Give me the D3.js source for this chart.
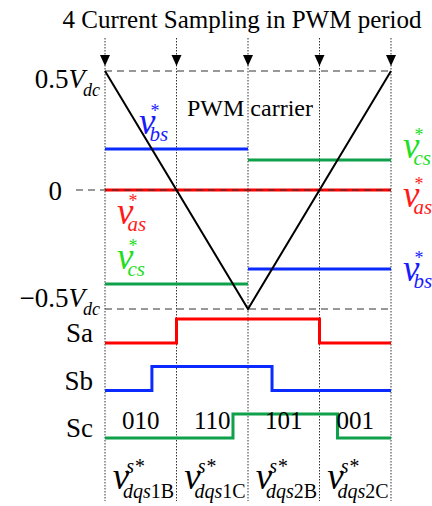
<!DOCTYPE html>
<html>
<head>
<meta charset="utf-8">
<script src="https://cdn.jsdelivr.net/npm/d3@7"></script>
<style>
  body { margin: 0; background: #fff; }
  svg { display: block; font-family: "Liberation Serif", "Times New Roman", serif; }
</style>
</head>
<body>
<div id="chart"></div>
<script>
// sample instants across one PWM period (in quarter periods)
const sampleT = [0, 1, 2, 3, 4];
// triangular carrier
const carrierT = [0, 2, 4];
const carrierV = [0.5, -0.5, 0.5];
// half periods and the phase references held in each one
const halfStart = [0, 2];
const halfEnd = [2, 4];
const vas = [0, 0];
const vbs = [0.172, -0.332];
const vcs = [-0.395, 0.126];
// level axis
const levelValues = [0.5, 0, -0.5];
const levelLabels = ["0.5", "0", "\u22120.5"];
// switching signals
const switchNames = ["Sa", "Sb", "Sc"];
const vectorCodes = ["010", "110", "101", "001"];
const vectorSubs = ["1B", "1C", "2B", "2C"];

const W = 432, H = 506;
const red = "#ff0000", blue = "#0a2aff", green = "#0fa04a";
const redTxt = "#ff1a1a", blueTxt = "#1a1aff", greenTxt = "#22dd22";

const svg = d3.select("#chart").append("svg")
  .attr("width", W).attr("height", H);

const x = d3.scaleLinear().domain([0, 4]).range([105, 391]);
const y = d3.scaleLinear().domain([-0.5, 0.5]).range([309, 71]);
const rowY = d3.scalePoint().domain(switchNames).range([343, 438]);
const pulseH = 24;

// title
svg.append("text")
  .attr("x", 242).attr("y", 28)
  .attr("text-anchor", "middle")
  .style("font-size", "25px")
  .text("4 Current Sampling in PWM period");

// dotted sampling lines with arrow heads
svg.selectAll(".samp").data(sampleT).enter()
  .append("line")
  .attr("x1", d => x(d)).attr("x2", d => x(d))
  .attr("y1", 38).attr("y2", 501)
  .attr("stroke", "#333").attr("stroke-width", 1)
  .attr("stroke-dasharray", "1.5,1.5");
svg.selectAll(".arrow").data(sampleT).enter()
  .append("path")
  .attr("d", d => `M${x(d) - 5},55L${x(d) + 5},55L${x(d)},66Z`)
  .attr("fill", "#000");

// reference lines
function refLine(vals, color) {
  svg.selectAll(null).data(vals).enter()
    .append("line")
    .attr("x1", (d, i) => x(halfStart[i]))
    .attr("x2", (d, i) => x(halfEnd[i]))
    .attr("y1", d => y(d)).attr("y2", d => y(d))
    .attr("stroke", color).attr("stroke-width", 3);
}
refLine(vbs, blue);
refLine(vcs, green);
refLine(vas, red);

// dashed level lines
svg.selectAll(".lvl").data(levelValues).enter()
  .append("line")
  .attr("x1", d => d === 0 ? 76 : x(0))
  .attr("x2", x(4))
  .attr("y1", d => y(d)).attr("y2", d => y(d))
  .attr("stroke", "#333").attr("stroke-width", 1.2)
  .attr("stroke-dasharray", "7,5");

// carrier
svg.append("path")
  .datum(d3.zip(carrierT, carrierV))
  .attr("d", d3.line().x(d => x(d[0])).y(d => y(d[1])))
  .attr("fill", "none").attr("stroke", "#000").attr("stroke-width", 2);

svg.append("text")
  .attr("x", 187).attr("y", 116)
  .style("font-size", "24px")
  .text("PWM carrier");

// level labels
levelValues.forEach((v, i) => {
  const t = svg.append("text")
    .attr("x", v === 0 ? 62 : x(0) - 5)
    .attr("y", y(v) + (v === 0 ? 10 : v > 0 ? 17 : -2))
    .attr("text-anchor", "end")
    .style("font-size", "27px");
  t.append("tspan").text(levelLabels[i]);
  if (v !== 0) {
    t.append("tspan").style("font-style", "italic").text("V");
    t.append("tspan").attr("dy", 8).attr("dx", -2).style("font-style", "italic")
      .style("font-size", "18px").text("dc");
  }
});

// reference labels: v* with subscript
function vLabel(px, py, sub, color) {
  const t = svg.append("text").attr("x", px).attr("y", py)
    .attr("fill", color).style("font-style", "italic");
  t.append("tspan").style("font-size", "37px").text("v");
  t.append("tspan").attr("dy", -17).attr("dx", -5)
    .style("font-size", "18px").style("font-style", "normal").text("*");
  t.append("tspan").attr("dy", 24).attr("dx", -10)
    .style("font-size", "21px").text(sub);
}
vLabel(x(0) + 34, y(vbs[0]) - 15, "bs", blueTxt);
vLabel(x(0) + 12, y(vas[0]) + 34, "as", redTxt);
vLabel(x(0) + 12, y(vcs[0]) - 15, "cs", greenTxt);
vLabel(x(4) + 12, y(vcs[1]) - 2, "cs", greenTxt);
vLabel(x(4) + 12, y(vas[1]) + 17, "as", redTxt);
vLabel(x(4) + 12, y(vbs[1]) + 12, "bs", blueTxt);

// switching signals from carrier crossings
const refs = [vas, vbs, vcs];
const swColors = [red, blue, green];
switchNames.forEach((name, i) => {
  const tOn = (0.5 - refs[i][0]) * 2;
  const tOff = 2 + (refs[i][1] + 0.5) * 2;
  const base = rowY(name);
  const pts = [[0, 0], [tOn, 0], [tOn, 1], [tOff, 1], [tOff, 0], [4, 0]];
  svg.append("path")
    .attr("d", d3.line().x(d => x(d[0])).y(d => base - d[1] * pulseH)(pts))
    .attr("fill", "none").attr("stroke", swColors[i]).attr("stroke-width", 3);
  svg.append("text")
    .attr("x", 93).attr("y", base - 1)
    .attr("text-anchor", "end")
    .style("font-size", "27px")
    .text(name);
});

// voltage vector codes
svg.selectAll(".code").data(vectorCodes).enter()
  .append("text")
  .attr("x", (d, i) => x(i + 0.5))
  .attr("y", 429)
  .attr("text-anchor", "middle")
  .style("font-size", "25px")
  .text(d => d);

// sampled vector labels
vectorSubs.forEach((s, i) => {
  const t = svg.append("text")
    .attr("x", x(i + 0.5) - 28).attr("y", 489)
    .style("font-style", "italic");
  t.append("tspan").style("font-size", "37px").text("v");
  t.append("tspan").attr("dy", -16).attr("dx", -3)
    .style("font-size", "20px").text("s*");
  t.append("tspan").attr("dy", 25).attr("dx", -21)
    .style("font-size", "20px").text("dqs");
  t.append("tspan").style("font-size", "20px").style("font-style", "normal").text(s);
});
</script>
</body>
</html>
